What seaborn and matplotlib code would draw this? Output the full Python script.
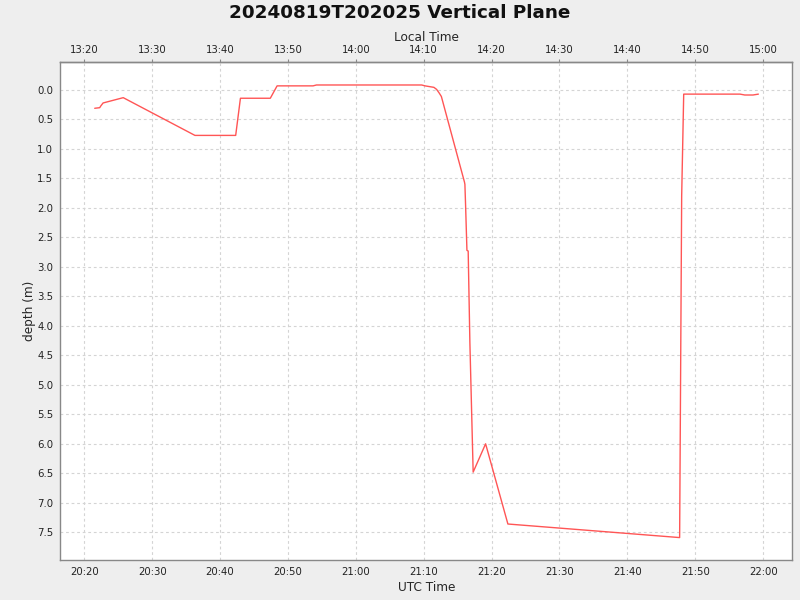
import matplotlib
matplotlib.use("Agg")
import matplotlib.pyplot as plt
import matplotlib.dates as mdates
import pandas as pd
import seaborn as sns

# ---- data ----
utc_times = ["20:21:32", "20:22:16", "20:22:26", "20:22:46", "20:25:44", "20:36:18",
             "20:42:18", "20:43:00", "20:47:24", "20:48:24", "20:53:42", "20:54:12",
             "21:09:42", "21:10:12", "21:11:30", "21:11:54", "21:12:18", "21:12:36",
             "21:16:00", "21:16:04", "21:16:10", "21:16:22", "21:16:33", "21:16:48",
             "21:17:17", "21:19:07", "21:22:24", "21:47:42", "21:48:00", "21:48:18",
             "21:56:36", "21:57:18", "21:58:30", "21:59:18"]
depth_m = [0.31, 0.30, 0.27, 0.22, 0.13, 0.77,
           0.77, 0.14, 0.14, -0.07, -0.07, -0.085,
           -0.085, -0.07, -0.045, -0.01, 0.055, 0.11,
           1.56, 1.60, 1.95, 2.72, 2.73, 4.28,
           6.48, 6.00, 7.36, 7.59, 1.80, 0.07,
           0.07, 0.085, 0.085, 0.07]
y_ticks = [0.0, 0.5, 1.0, 1.5, 2.0, 2.5, 3.0, 3.5, 4.0, 4.5, 5.0, 5.5, 6.0, 6.5, 7.0, 7.5]
title_text = "20240819T202025 Vertical Plane"
date_str = "2024-08-19"
local_offset_hours = -7

df = pd.DataFrame({
    "time": pd.to_datetime([f"{date_str} {t}" for t in utc_times]),
    "depth": depth_m,
})

sns.set_style("white")
plt.rcParams["font.family"] = ["DejaVu Sans"]

fig = plt.figure(figsize=(8, 6), dpi=100, facecolor="#EEEEEE")
ax = fig.add_axes([0.0754, 0.0662, 0.915, 0.830])
ax.set_facecolor("white")

sns.lineplot(data=df, x="time", y="depth", ax=ax, color="#FF5555",
             linewidth=1.0, estimator=None, sort=False)

ax.set_xlim(pd.Timestamp(f"{date_str} 20:16:28"), pd.Timestamp(f"{date_str} 22:04:18"))
ax.set_ylim(7.975, -0.47)
ax.set_yticks(y_ticks)
ax.yaxis.set_major_formatter(matplotlib.ticker.FormatStrFormatter("%.1f"))

ax.xaxis.set_major_locator(mdates.MinuteLocator(byminute=range(0, 60, 10)))
ax.xaxis.set_major_formatter(mdates.DateFormatter("%H:%M"))

off = local_offset_hours / 24.0
sec = ax.secondary_xaxis("top", functions=(lambda x: x + off, lambda x: x - off))
sec.xaxis.set_major_locator(mdates.MinuteLocator(byminute=range(0, 60, 10)))
sec.xaxis.set_major_formatter(mdates.DateFormatter("%H:%M"))

grid_kw = dict(color="#D4D4D4", linestyle=(0, (2.5, 2.5)), linewidth=0.8)
ax.grid(True, which="major", axis="both", **grid_kw)
ax.set_axisbelow(True)

for s in ax.spines.values():
    s.set_color("#888888")
    s.set_linewidth(1.0)
for s in sec.spines.values():
    s.set_color("#888888")
    s.set_linewidth(1.0)

tick_kw = dict(direction="out", length=2.5, width=0.8, color="#888888",
               labelcolor="#222222", labelsize=7.3, pad=2.5)
ax.tick_params(axis="both", **tick_kw)
sec.tick_params(axis="x", **tick_kw)

ax.set_xlabel("UTC Time", fontsize=8.7, labelpad=3)
ax.set_ylabel("depth (m)", fontsize=8.7, labelpad=1)
sec.set_xlabel("Local Time", fontsize=8.7, labelpad=3)

fig.text(0.5, 1 - 12.5 / 600, title_text, ha="center", va="center",
         fontsize=13.2, fontweight="bold", color="#111111")

fig.savefig("out.png", dpi=100, facecolor=fig.get_facecolor())
